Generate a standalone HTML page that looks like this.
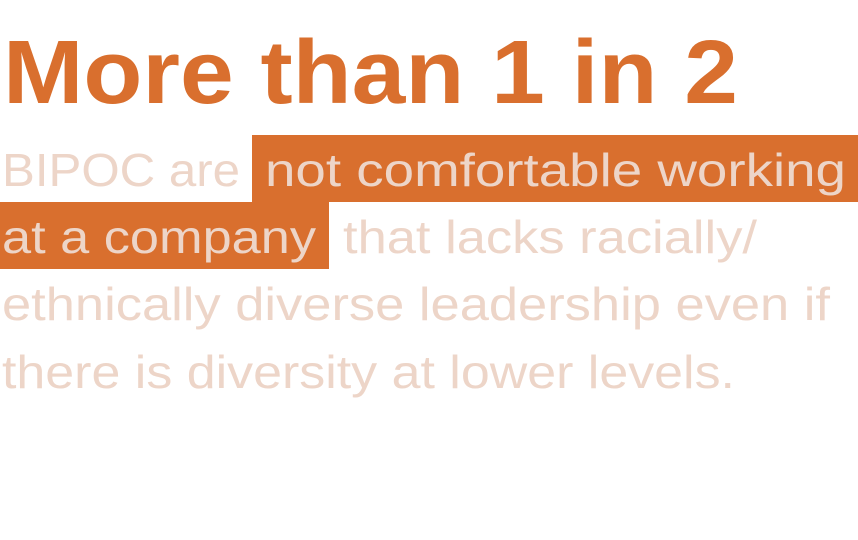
<!DOCTYPE html>
<html><head><meta charset="utf-8"><style>
html,body{margin:0;padding:0;background:#fff;width:858px;height:540px;overflow:hidden}
svg{display:block}
text{font-family:"Liberation Sans",sans-serif}
</style></head><body>
<svg width="858" height="540" viewBox="0 0 858 540">
<text x="3" y="103" font-size="90" font-weight="bold" fill="#D96F2E" textLength="735" lengthAdjust="spacingAndGlyphs">More than 1 in 2</text>
<rect x="252" y="135" width="606" height="67" fill="#D96F2E"/>
<rect x="0" y="202" width="329" height="67" fill="#D96F2E"/>
<g fill="#EDD5C8" font-size="46">
<text x="2" y="186" textLength="238" lengthAdjust="spacingAndGlyphs">BIPOC are</text>
<text x="265" y="186" textLength="581" lengthAdjust="spacingAndGlyphs">not comfortable working</text>
<text x="2" y="253" textLength="314" lengthAdjust="spacingAndGlyphs">at a company</text>
<text x="343" y="253" textLength="414" lengthAdjust="spacingAndGlyphs">that lacks racially/</text>
<text x="2" y="320" textLength="828" lengthAdjust="spacingAndGlyphs">ethnically diverse leadership even if</text>
<text x="2" y="388" textLength="733" lengthAdjust="spacingAndGlyphs">there is diversity at lower levels.</text>
</g>
</svg>
</body></html>
